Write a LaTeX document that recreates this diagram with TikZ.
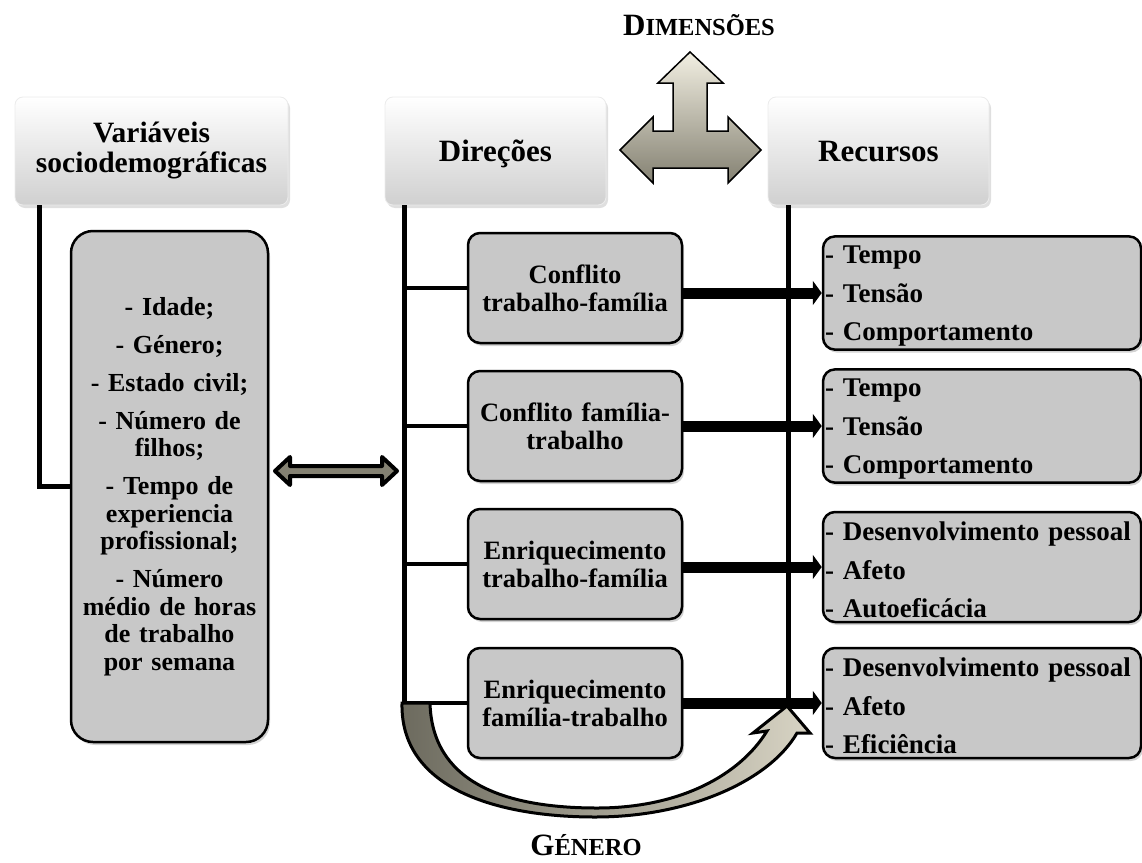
\documentclass[tikz,border=0pt]{standalone}
\usepackage{fontspec}
\setmainfont{Liberation Serif}
\usepackage{tikz}
\usetikzlibrary{arrows.meta, positioning, calc, shadows}
\definecolor{boxgray}{RGB}{200,200,200}
\definecolor{hdrgray}{RGB}{208,208,208}
\definecolor{arrlight}{RGB}{242,239,226}
\definecolor{arrdark}{RGB}{132,129,114}
\definecolor{gendark}{RGB}{108,106,94}
\definecolor{genlight}{RGB}{216,212,196}
\tikzset{
  header/.style={rectangle, rounded corners=8pt, top color=white, bottom color=hdrgray,
    draw=black!8, line width=0.8pt, minimum width=221pt, minimum height=108pt,
    align=center, inner sep=3pt, font=\fontsize{31}{31}\selectfont\bfseries,
    drop shadow={shadow xshift=2pt, shadow yshift=-3pt, opacity=0.25}},
  item/.style={rectangle, rounded corners=12pt, fill=boxgray, draw=black,
    line width=2.5pt, minimum width=214pt, minimum height=110pt, text width=208pt,
    inner sep=3pt, align=center, font=\fontsize{26.5}{28}\selectfont\bfseries,
    drop shadow={shadow xshift=2pt, shadow yshift=-3pt, opacity=0.35}},
  line/.style={line width=5pt, color=black},
  bigarrow/.style={-{Triangle[length=9pt,width=24pt]}, line width=11pt, color=black}
}

\begin{document}
\begin{tikzpicture}[x=1pt, y=-1pt,
  reslist/.style={item, minimum width=318pt, text width=314pt, inner xsep=2pt,
    align=left, font=\fontsize{27}{38.5}\selectfont\bfseries,
    execute at begin node={\rule{0pt}{24.5pt}}},
  dblarr/.style={draw=black, line width=4pt, line join=round, left color=arrdark,
    middle color=arrlight, right color=arrdark},
  capslbl/.style={font=\bfseries, inner sep=0pt}]
  \useasboundingbox (0,0) rectangle (1142,862);

  % Headers
  \node[header, minimum width=273pt, font=\fontsize{29.5}{30}\selectfont\bfseries] (hvar)
    at (151.5,151) {Variáveis\\sociodemográficas};
  \node[header, text height=26pt, text depth=6pt] (hdir) at (495.5,151) {Direções};
  \node[header, text height=26pt, text depth=6pt] (hres) at (878.5,151) {Recursos};

  % Dimensions arrow
  \node[capslbl] (dimlbl) at (699,25) {\fontsize{31}{31}\selectfont D\fontsize{24.5}{24.5}\selectfont IMENSÕES};
  \begin{scope}[shift={(690,150)}]
    \filldraw[draw=black, line width=1.5pt, top color=arrlight, bottom color=arrdark]
      (0,-98) -- (33,-67) -- (17,-67) -- (17,-19) -- (38,-19) -- (38,-33)
      -- (71,0) -- (38,33) -- (38,18) -- (-37,18) -- (-37,33) -- (-70,0)
      -- (-37,-33) -- (-37,-19) -- (-17,-19) -- (-17,-67) -- (-32,-67) -- cycle;
  \end{scope}

  % Sociodemographic variables
  \node[item, rounded corners=22pt, minimum width=197pt, minimum height=511pt,
    text width=190pt, font=\fontsize{26}{27.5}\selectfont\bfseries] (vars) at (169.5,486.5)
    {- Idade;\\[10.5pt] - Género;\\[10.5pt] - Estado civil;\\[10.5pt] - Número de\\filhos;\\[10.5pt]
     - Tempo de\\experiencia\\profissional;\\[10.5pt] - Número\\médio de horas\\de trabalho\\por semana};
  \draw[line] ([xshift=25pt]hvar.south west) |- (vars.west);
  \coordinate (link) at (336,471);
  \filldraw[dblarr, shift={(link)}]
    (-61,0) -- (-46,-14) -- (-46,-5) -- (46,-5) -- (46,-14) -- (61,0)
    -- (46,14) -- (46,5) -- (-46,5) -- (-46,14) -- cycle;

  % Directions
  \node[item] (dir1) at (575,288) {Conflito\\trabalho-família};
  \node[item] (dir2) at (575,426) {Conflito família-\\trabalho};
  \node[item] (dir3) at (575,564) {Enriquecimento\\trabalho-família};
  \node[item] (dir4) at (575,703) {Enriquecimento\\família-trabalho};
  \coordinate (dtop) at ([xshift=20pt]hdir.south west);
  \draw[line] (dtop) -- (dtop |- dir4.west);
  \foreach \i in {1,...,4}
    \draw[line, line width=4.5pt] (dtop |- dir\i.west) -- (dir\i.west);

  % Resources
  \node[reslist] (res1) at (982,293) {- Tempo\\- Tensão\\- Comportamento};
  \node[reslist] (res2) at (982,426) {- Tempo\\- Tensão\\- Comportamento};
  \node[reslist] (res3) at (982,567) {- Desenvolvimento pessoal\\- Afeto\\- Autoeficácia};
  \node[reslist] (res4) at (982,703) {- Desenvolvimento pessoal\\- Afeto\\- Eficiência};
  \coordinate (rtop) at ([xshift=21pt]hres.south west);
  \draw[line] (rtop) -- (rtop |- res4.west);
  \foreach \i in {1,...,4}
    \draw[bigarrow] (dir\i.east |- res\i.west) -- (res\i.west);

  % Gender arrow
  \filldraw[draw=black, line width=3pt, left color=gendark, right color=genlight]
    (402,703) .. controls (400,790) and (500,817) .. (595,817)
    .. controls (690,817) and (770,780) .. (797,733)
    -- (810,733) -- (787,706) -- (753,733) -- (767,731)
    .. controls (740,775) and (680,808) .. (597,808)
    .. controls (500,808) and (432,780) .. (430,703) -- cycle;
  \node[capslbl] (genlbl) at (586,845) {\fontsize{31}{31}\selectfont G\fontsize{24.5}{24.5}\selectfont ÉNERO};
\end{tikzpicture}
\end{document}
